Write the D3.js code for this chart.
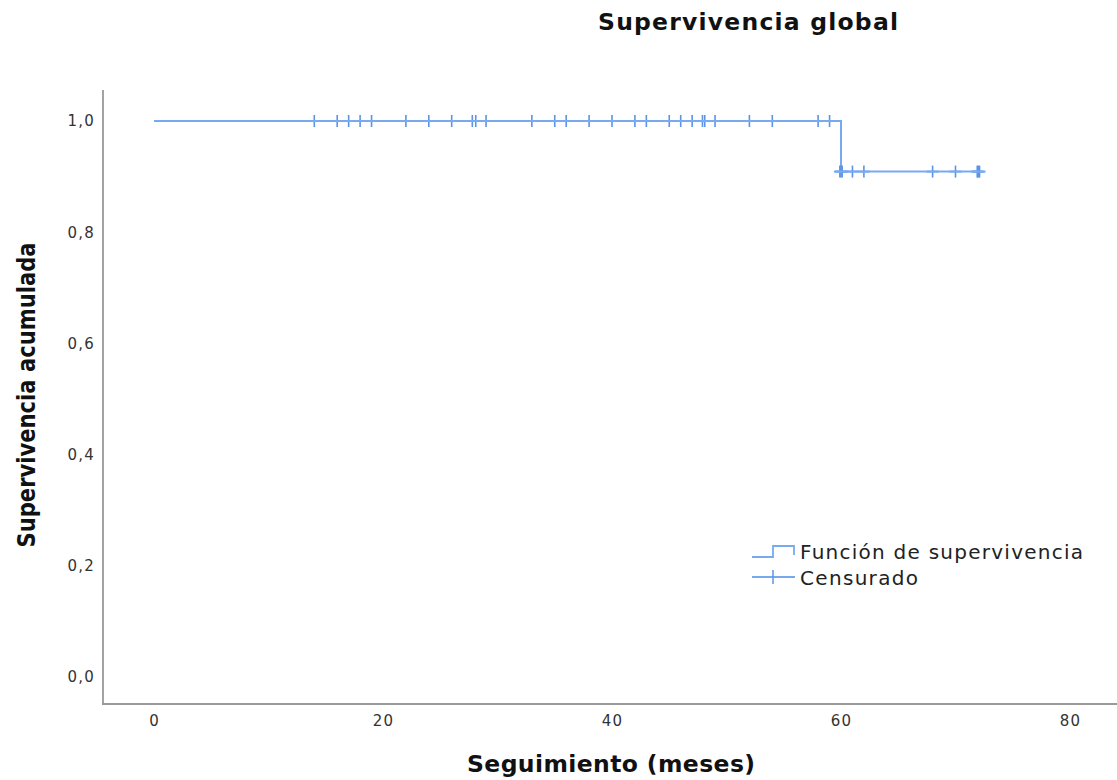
<!DOCTYPE html>
<html>
<head>
  <meta charset="utf-8">
  <title>Supervivencia global</title>
  <script src="https://d3js.org/d3.v7.min.js"></script>
  <style>
    body { margin: 0; background: #fff; }
    .tick-label { font-family: 'DejaVu Sans', sans-serif; font-size: 15px; fill: #333; letter-spacing: 1.2px; }
    .title { font-family: 'DejaVu Sans', sans-serif; font-weight: bold; fill: #111; }
    .legend-text { font-family: 'DejaVu Sans', sans-serif; font-size: 20px; fill: #222; }
  </style>
</head>
<body>
  <div id="chart"></div>
  <script>
    // Kaplan-Meier step points (time in months, cumulative survival)
    var stepTimes = [0, 60, 72];
    var stepSurv = [1.0, 0.909, 0.909];

    // Censored cases, before and after the event at 60 months
    var censoredHigh = [14, 16, 17, 18, 19, 22, 24, 26, 27.8, 28.1, 29, 33, 35, 36, 38, 40, 42, 43, 45, 46, 47, 47.9, 48.1, 49, 52, 54, 58, 59];
    var censoredLow = [59.9, 60, 60.1, 61, 62, 68, 70, 71.9, 72, 72.1];

    var xTicks = [0, 20, 40, 60, 80];
    var yTicks = [0, 0.2, 0.4, 0.6, 0.8, 1.0];

    var width = 1117, height = 780;
    var lineColor = "#78aaf0", markColor = "#5b93e6";

    var svg = d3.select("#chart").append("svg")
      .attr("width", width)
      .attr("height", height);

    // scales
    var x = d3.scaleLinear().domain([0, 80]).range([154, 1070]);
    var y = d3.scaleLinear().domain([0, 1]).range([677, 121]);

    var comma = d3.formatLocale({decimal: ",", thousands: ".", grouping: [3], currency: ["", "€"]}).format(".1f");

    // axes frame
    svg.append("line")
      .attr("x1", 103).attr("x2", 103).attr("y1", 90).attr("y2", 704)
      .attr("stroke", "#666").attr("stroke-width", 1.2);
    svg.append("line")
      .attr("x1", 102).attr("x2", width).attr("y1", 704).attr("y2", 704)
      .attr("stroke", "#999").attr("stroke-width", 2);

    // tick labels
    var yAxis = d3.axisLeft(y).tickValues(yTicks).tickSize(0).tickPadding(0).tickFormat(comma);
    var gy = svg.append("g").attr("transform", "translate(95,0)").call(yAxis);
    gy.select(".domain").remove();
    gy.selectAll("text").attr("class", "tick-label").attr("font-family", null).attr("font-size", null).attr("fill", null);

    var xAxis = d3.axisBottom(x).tickValues(xTicks).tickSize(0).tickPadding(0).tickFormat(d3.format("d"));
    var gx = svg.append("g").attr("transform", "translate(0,715)").call(xAxis);
    gx.select(".domain").remove();
    gx.selectAll("text").attr("class", "tick-label").attr("font-family", null).attr("font-size", null).attr("fill", null);

    // survival step curve
    var pts = stepTimes.map(function(t, i) { return [t, stepSurv[i]]; });
    var line = d3.line()
      .x(function(d) { return x(d[0]); })
      .y(function(d) { return y(d[1]); })
      .curve(d3.curveStepAfter);
    svg.append("path")
      .datum(pts)
      .attr("d", line)
      .attr("fill", "none")
      .attr("stroke", lineColor)
      .attr("stroke-width", 2);

    // censor marks
    var censored = censoredHigh.map(function(t) { return [t, 1.0]; })
      .concat(censoredLow.map(function(t) { return [t, 0.909]; }));
    var marks = svg.append("g").selectAll("g").data(censored).enter().append("g")
      .attr("transform", function(d) { return "translate(" + x(d[0]) + "," + y(d[1]) + ")"; });
    marks.append("line")
      .attr("x1", 0).attr("x2", 0).attr("y1", -6).attr("y2", 6)
      .attr("stroke", markColor).attr("stroke-width", 1.6);
    marks.append("line")
      .attr("x1", -6).attr("x2", 6).attr("y1", 0).attr("y2", 0)
      .attr("stroke", lineColor).attr("stroke-width", 2);

    // titles
    svg.append("text").attr("class", "title")
      .attr("x", 748).attr("y", 30)
      .attr("text-anchor", "middle")
      .attr("font-size", 23.5)
      .attr("textLength", 300)
      .text("Supervivencia global");
    svg.append("text").attr("class", "title")
      .attr("x", 611).attr("y", 772)
      .attr("text-anchor", "middle")
      .attr("font-size", 23.5)
      .attr("textLength", 288)
      .text("Seguimiento (meses)");
    svg.append("text").attr("class", "title")
      .attr("transform", "translate(35,395) rotate(-90)")
      .attr("text-anchor", "middle")
      .attr("font-family", "'DejaVu Sans Condensed', 'DejaVu Sans', sans-serif")
      .attr("font-stretch", "condensed")
      .attr("font-size", 25)
      .attr("textLength", 305)
      .attr("lengthAdjust", "spacingAndGlyphs")
      .text("Supervivencia acumulada");

    // legend
    var lg = svg.append("g");
    lg.append("path")
      .attr("d", d3.line()([[752, 557], [773, 557], [773, 546], [794, 546], [794, 555]]))
      .attr("fill", "none").attr("stroke", lineColor).attr("stroke-width", 1.8);
    lg.append("line")
      .attr("x1", 752).attr("x2", 795).attr("y1", 577).attr("y2", 577)
      .attr("stroke", lineColor).attr("stroke-width", 1.8);
    lg.append("line")
      .attr("x1", 773).attr("x2", 773).attr("y1", 570).attr("y2", 584)
      .attr("stroke", markColor).attr("stroke-width", 1.5);
    lg.append("text").attr("class", "legend-text")
      .attr("x", 800).attr("y", 559)
      .attr("textLength", 283)
      .text("Función de supervivencia");
    lg.append("text").attr("class", "legend-text")
      .attr("x", 800).attr("y", 585)
      .attr("textLength", 118)
      .text("Censurado");
  </script>
</body>
</html>
